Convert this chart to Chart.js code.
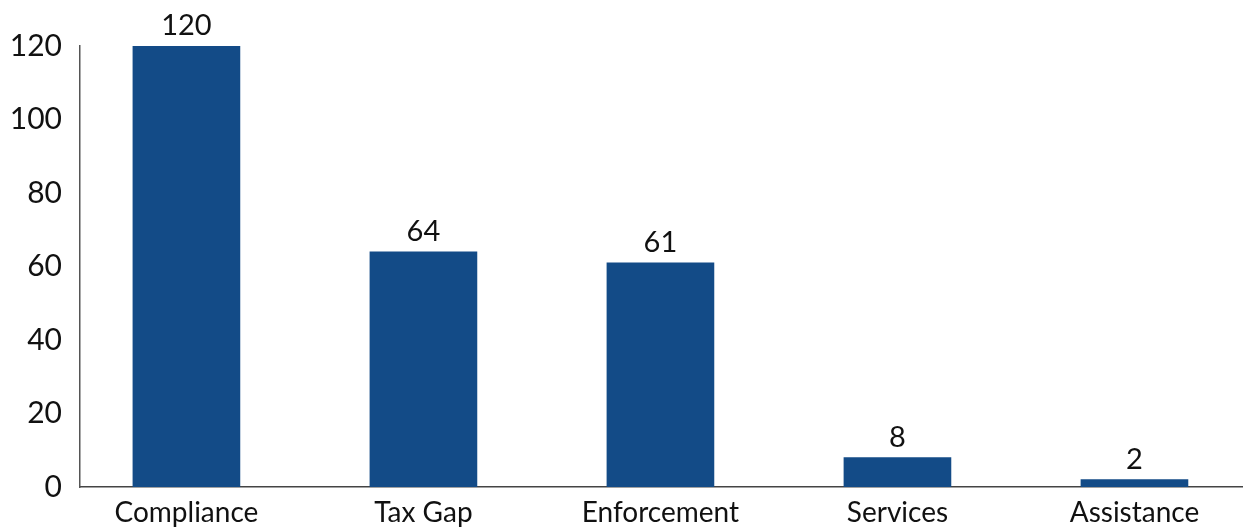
<!DOCTYPE html>
<html>
<head>
<meta charset="utf-8">
<script src="https://cdn.jsdelivr.net/npm/chart.js@4/dist/chart.umd.min.js"></script>
<style>
  html, body { margin: 0; padding: 0; background: #fff; }
  #wrap { width: 1243px; height: 527px; position: relative; }
</style>
</head>
<body>
<div id="wrap"><canvas id="c"></canvas></div>
<script>
const categories = ['Compliance', 'Tax Gap', 'Enforcement', 'Services', 'Assistance'];
const values = [120, 64, 61, 8, 2];
const yTicks = [0, 20, 40, 60, 80, 100, 120];

const FONT = 'Lato, "Open Sans", sans-serif';
const barColor = '#134B87';

const valueLabels = {
  id: 'valueLabels',
  afterDatasetsDraw(chart) {
    const ctx = chart.ctx;
    const meta = chart.getDatasetMeta(0);
    ctx.save();
    ctx.fillStyle = '#111';
    ctx.font = '29px ' + FONT;
    ctx.textAlign = 'center';
    ctx.textBaseline = 'alphabetic';
    meta.data.forEach((el, i) => {
      ctx.fillText(String(values[i]), el.x, el.y - 11);
    });
    ctx.restore();
  }
};

new Chart(document.getElementById('c'), {
  type: 'bar',
  data: {
    datasets: [{
      data: values.map((v, i) => ({ x: i, y: v })),
      backgroundColor: barColor,
      barThickness: 107,
      borderWidth: 0
    }]
  },
  plugins: [valueLabels],
  options: {
    responsive: true,
    maintainAspectRatio: false,
    animation: false,
    layout: { padding: { top: 46, right: 0, left: 0, bottom: 0 } },
    plugins: { legend: { display: false }, tooltip: { enabled: false } },
    scales: {
      x: {
        type: 'linear',
        offset: false,
        min: -0.449,
        max: 4.458,
        grid: { display: false, drawTicks: false, offset: false },
        border: { display: true, color: '#444', width: 1.5 },
        afterBuildTicks(scale) {
          scale.ticks = categories.map((c, i) => ({ value: i }));
        },
        afterFit(scale) { scale.height = 40; },
        ticks: {
          autoSkip: false,
          maxRotation: 0,
          padding: 9,
          color: '#111',
          font: { family: FONT, size: 28 },
          callback: (v) => categories[v] ?? ''
        }
      },
      y: {
        min: 0,
        max: 120,
        grid: { display: false, drawTicks: false },
        border: { display: true, color: '#555', width: 1.5 },
        afterBuildTicks(scale) {
          scale.ticks = yTicks.map(v => ({ value: v }));
        },
        afterFit(scale) { scale.width = 80; },
        ticks: {
          padding: 18,
          color: '#111',
          font: { family: FONT, size: 30 }
        }
      }
    }
  }
});
</script>
</body>
</html>
